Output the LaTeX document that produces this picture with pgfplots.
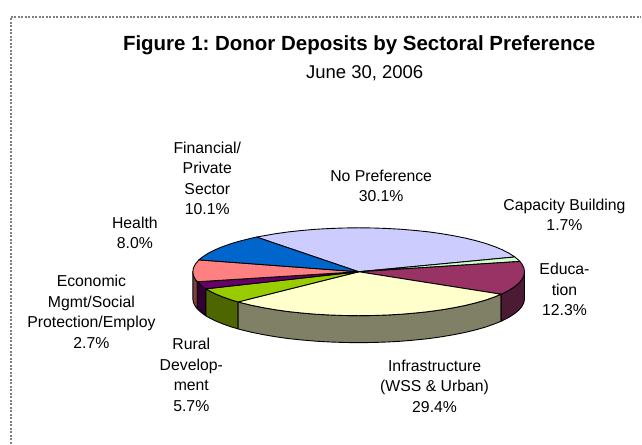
\documentclass[border=0pt]{standalone}
\usepackage{fontspec}
\setmainfont{Liberation Sans}
\usepackage{pgfplots}
\pgfplotsset{compat=1.18}
\definecolor{cNoPref}{HTML}{CCCCFF}
\definecolor{cCap}{HTML}{CCFFCC}
\definecolor{cEdu}{HTML}{993366}
\definecolor{cInf}{HTML}{FFFFCC}
\definecolor{cRur}{HTML}{99CC00}
\definecolor{cEco}{HTML}{660066}
\definecolor{cHea}{HTML}{FF8080}
\definecolor{cFin}{HTML}{0066CC}
\definecolor{sEdu}{HTML}{4D1A33}
\definecolor{sInf}{HTML}{808066}
\definecolor{sRur}{HTML}{4D6600}
\definecolor{sEco}{HTML}{330033}
\definecolor{sHea}{HTML}{804040}
\definecolor{frame}{HTML}{808080}
\tikzset{lab/.style={font=\fontsize{15.8}{20.6}\selectfont, align=center, anchor=center, inner sep=0pt}}
\frenchspacing
\begin{document}
\begin{tikzpicture}
\begin{axis}[
  scale only axis, width=642pt, height=444pt,
  xmin=0, xmax=642, ymin=0, ymax=444, y dir=reverse,
  hide axis, clip=false,
  every axis plot/.append style={line width=0.9pt, draw=black, line join=round},
]
\path (axis cs:0,0) rectangle (axis cs:642,444);
% frame
\addplot[draw=frame, line width=1.2pt, dash pattern=on 2pt off 1.5pt] coordinates {(11,444) (11,17) (642,17)};
% sides
\addplot[fill=sHea] coordinates {(197.4,282)(195.5,279.6)(193.6,275.8)(193,272)(193,299)(193.6,302.8)(195.5,306.6)(197.4,309)} -- cycle;
\addplot[fill=sEco] coordinates {(206,289.1)(203,287)(198.7,283.4)(197.4,282)(197.4,309)(198.7,310.4)(203,314)(206,316.1)} -- cycle;
\addplot[fill=sRur] coordinates {(238.4,302.2)(231.8,300.3)(223,297.2)(215.2,294)(208.6,290.6)(206,289.1)(206,316.1)(208.6,317.6)(215.2,321)(223,324.2)(231.8,327.3)(238.4,329.2)} -- cycle;
\addplot[fill=sInf] coordinates {(501.6,294.5)(495,297.2)(486.2,300.3)(476.4,303.1)(465.7,305.7)(454.2,308)(442,310.1)(429.2,311.9)(415.8,313.3)(402,314.5)(387.8,315.3)(373.5,315.8)(359,316)(344.5,315.8)(330.2,315.3)(316,314.5)(302.2,313.3)(288.8,311.9)(276,310.1)(263.8,308)(252.3,305.7)(241.6,303.1)(238.4,302.2)(238.4,329.2)(241.6,330.1)(252.3,332.7)(263.8,335)(276,337.1)(288.8,338.9)(302.2,340.3)(316,341.5)(330.2,342.3)(344.5,342.8)(359,343)(373.5,342.8)(387.8,342.3)(402,341.5)(415.8,340.3)(429.2,338.9)(442,337.1)(454.2,335)(465.7,332.7)(476.4,330.1)(486.2,327.3)(495,324.2)(501.6,321.5)} -- cycle;
\addplot[fill=sEdu] coordinates {(525,272)(524.4,275.8)(522.5,279.6)(519.3,283.4)(515,287)(509.4,290.6)(502.8,294)(501.6,294.5)(501.6,321.5)(502.8,321)(509.4,317.6)(515,314)(519.3,310.4)(522.5,306.6)(524.4,302.8)(525,299)} -- cycle;
% top faces
\addplot[fill=cNoPref] coordinates {(359,272)(515.3,257.2)(515,257)(509.4,253.4)(502.8,250)(495,246.8)(486.2,243.7)(476.4,240.9)(465.7,238.3)(454.2,236)(442,233.9)(429.2,232.1)(415.8,230.7)(402,229.5)(387.8,228.7)(373.5,228.2)(359,228)(344.5,228.2)(330.2,228.7)(316,229.5)(302.2,230.7)(288.8,232.1)(276,233.9)(263.8,236)(256.8,237.3)} -- cycle;
\addplot[fill=cCap] coordinates {(359,272)(520.4,261.7)(519.3,260.6)(515.3,257.2)} -- cycle;
\addplot[fill=cEdu] coordinates {(359,272)(501.6,294.5)(502.8,294)(509.4,290.6)(515,287)(519.3,283.4)(522.5,279.6)(524.4,275.8)(525,272)(524.4,268.2)(522.5,264.4)(520.4,261.7)} -- cycle;
\addplot[fill=cInf] coordinates {(359,272)(238.4,302.2)(241.6,303.1)(252.3,305.7)(263.8,308)(276,310.1)(288.8,311.9)(302.2,313.3)(316,314.5)(330.2,315.3)(344.5,315.8)(359,316)(373.5,315.8)(387.8,315.3)(402,314.5)(415.8,313.3)(429.2,311.9)(442,310.1)(454.2,308)(465.7,305.7)(476.4,303.1)(486.2,300.3)(495,297.2)(501.6,294.5)} -- cycle;
\addplot[fill=cRur] coordinates {(359,272)(206,289.1)(208.6,290.6)(215.2,294)(223,297.2)(231.8,300.3)(238.4,302.2)} -- cycle;
\addplot[fill=cEco] coordinates {(359,272)(197.4,282)(198.7,283.4)(203,287)(206,289.1)} -- cycle;
\addplot[fill=cHea] coordinates {(359,272)(199.1,260.1)(195.5,264.4)(193.6,268.2)(193,272)(193.6,275.8)(195.5,279.6)(197.4,282)} -- cycle;
\addplot[fill=cFin] coordinates {(359,272)(256.8,237.3)(252.3,238.3)(241.6,240.9)(231.8,243.7)(223,246.8)(215.2,250)(208.6,253.4)(203,257)(199.1,260.1)} -- cycle;
% text
\node[font=\fontsize{20.5}{22}\selectfont\bfseries, anchor=center, inner sep=0pt] at (axis cs:359.5,45) {Figure 1: Donor Deposits by Sectoral Preference};
\node[lab, font=\fontsize{18.5}{20}\selectfont] at (axis cs:365,73) {June 30, 2006};
\node[lab] at (axis cs:381.5,186) {No Preference\\30.1\%};
\node[lab] at (axis cs:207.5,178.5) {Financial/\\Private\\Sector\\10.1\%};
\node[lab] at (axis cs:565,215) {Capacity Building\\1.7\%};
\node[lab] at (axis cs:135,233) {Health\\8.0\%};
\node[lab] at (axis cs:565,290) {Educa-\\tion\\12.3\%};
\node[lab] at (axis cs:91.5,312) {Economic\\Mgmt/Social\\Protection/Employ\\2.7\%};
\node[lab] at (axis cs:191.5,375) {Rural\\Develop-\\ment\\5.7\%};
\node[lab] at (axis cs:435,386.5) {Infrastructure\\(WSS \& Urban)\\29.4\%};
\end{axis}
\end{tikzpicture}
\end{document}
